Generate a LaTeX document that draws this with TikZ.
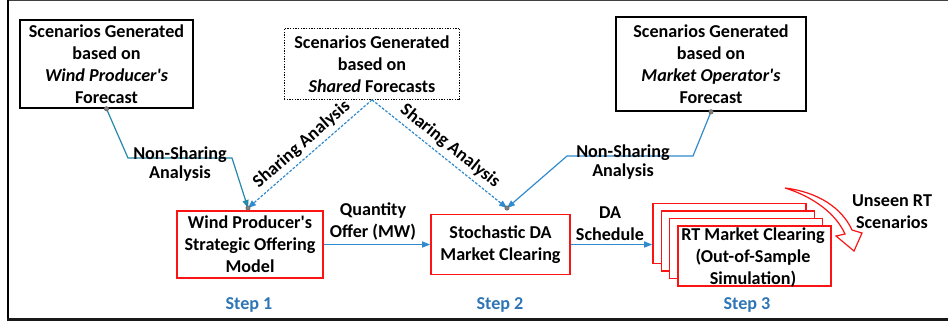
\documentclass[tikz,border=0pt]{standalone}
\usepackage{fontspec}
\setmainfont{Carlito}
\usetikzlibrary{arrows.meta}
\definecolor{stepblue}{RGB}{46,117,182}
\definecolor{linkteal}{RGB}{36,138,168}
\definecolor{linkblue}{RGB}{48,138,206}
\definecolor{boxred}{RGB}{250,20,20}

\begin{document}
\begin{tikzpicture}[x=0.75pt, y=-0.75pt,
  every node/.style={font=\bfseries\fontsize{13.6}{16.5}\selectfont, align=center, inner sep=0pt, text=black},
  scenbox/.style={draw, line width=1.2pt, fill=white},
  modelbox/.style={draw=boxred, line width=1.2pt, fill=white},
  linklabel/.style={font=\bfseries\fontsize{13.6}{14.5}\selectfont},
  steplabel/.style={text=stepblue},
  flow/.style={linkblue, line width=0.9pt, -{Triangle[length=6pt,width=4.5pt]}},
  shared/.style={linkblue, line width=0.9pt, dash pattern=on 2pt off 1.2pt, -{Triangle[length=6pt,width=4.5pt]}},
  joint/.style={fill=gray, draw=black!60, line width=0.4pt}]
  \useasboundingbox (0,0) rectangle (948,322);
  % frame
  \draw[black!75, line width=0.9pt] (8,0.5) -- (948,0.5);
  \draw[line width=1.5pt] (8,0) -- (8,319.5);
  \draw[black!90, line width=2.2pt] (7,319.5) -- (948,319.5);

  % forecast boxes
  \node[scenbox, minimum width=129.75pt, minimum height=66pt] (wpfc) at (106.5,64)
    {Scenarios Generated\\based on\\\textit{Wind Producer\textquotesingle s}\\Forecast};
  \node[scenbox, draw=none, minimum width=130.5pt, minimum height=52.5pt] (sharedfc) at (372,64)
    {Scenarios Generated\\based on\\\textit{Shared} Forecasts};
  \draw[line width=1pt, dash pattern=on 1pt off 1pt] (sharedfc.south west) rectangle (sharedfc.north east);
  \node[scenbox, minimum width=142.5pt, minimum height=70.5pt] (mofc) at (711,64)
    {Scenarios Generated\\based on\\\textit{Market Operator\textquotesingle s}\\Forecast};

  % models
  \node[modelbox, minimum width=109.5pt, minimum height=50.25pt] (offer) at (250,244.5)
    {Wind Producer\textquotesingle s\\Strategic Offering\\Model};
  \node[modelbox, minimum width=104.25pt, minimum height=45pt] (daclear) at (500.5,244.5)
    {Stochastic DA\\Market Clearing};
  \foreach \i in {0,...,3}
    \node[modelbox, minimum width=114.75pt, minimum height=45pt] (rt\i) at ({729.5+8.33*\i},{233.5+7.5*\i}) {};
  \node (rttext) at (753,258) {RT Market Clearing\\(Out-of-Sample\\Simulation)};

  % joints
  \coordinate (joinA) at (248,208);
  \coordinate (joinB) at (507,208);

  % analysis links
  \draw[flow, linkteal] (wpfc.south) -- (128,158) -- (232,158) -- (joinA);
  \node[linklabel] (nsleft) at (180,164) {Non-Sharing\\Analysis};
  \draw[flow] (mofc.south) -- (693,156) -- (567,156) -- (joinB);
  \node[linklabel] (nsright) at (623,162) {Non-Sharing\\Analysis};
  \draw[shared] (sharedfc.south) -- node[sloped, above=3pt] (shleft) {Sharing Analysis} (joinA);
  \draw[shared] (sharedfc.south) -- node[sloped, above=3pt, pos=0.52] (shright) {Sharing Analysis} (joinB);
  \foreach \j in {joinA, joinB, wpfc.south, mofc.south}
    \draw[joint] (\j) circle (2.2);

  % flows between steps
  \draw[flow] (offer.east) -- (daclear.west);
  \node (qty) at (373,221) {Quantity\\Offer (MW)};
  \draw[flow] (daclear.east) -- (daclear.east -| rt0.west);
  \node (sched) at (610,224) {DA\\Schedule};

  % unseen scenarios
  \draw[boxred, line width=0.9pt, fill=white, line join=miter]
    (785,188) .. controls (818,192) and (842,208) .. (852,230) -- (862,233) -- (854,251)
    -- (836,236) -- (845,234) .. controls (836,214) and (814,197) .. (785,188) -- cycle;
  \node (unseen) at (892,212) {Unseen RT\\Scenarios};

  % steps
  \node[steplabel] (step1) at (249,305) {Step 1};
  \node[steplabel] (step2) at (500,305) {Step 2};
  \node[steplabel] (step3) at (747,305) {Step 3};
\end{tikzpicture}
\end{document}
